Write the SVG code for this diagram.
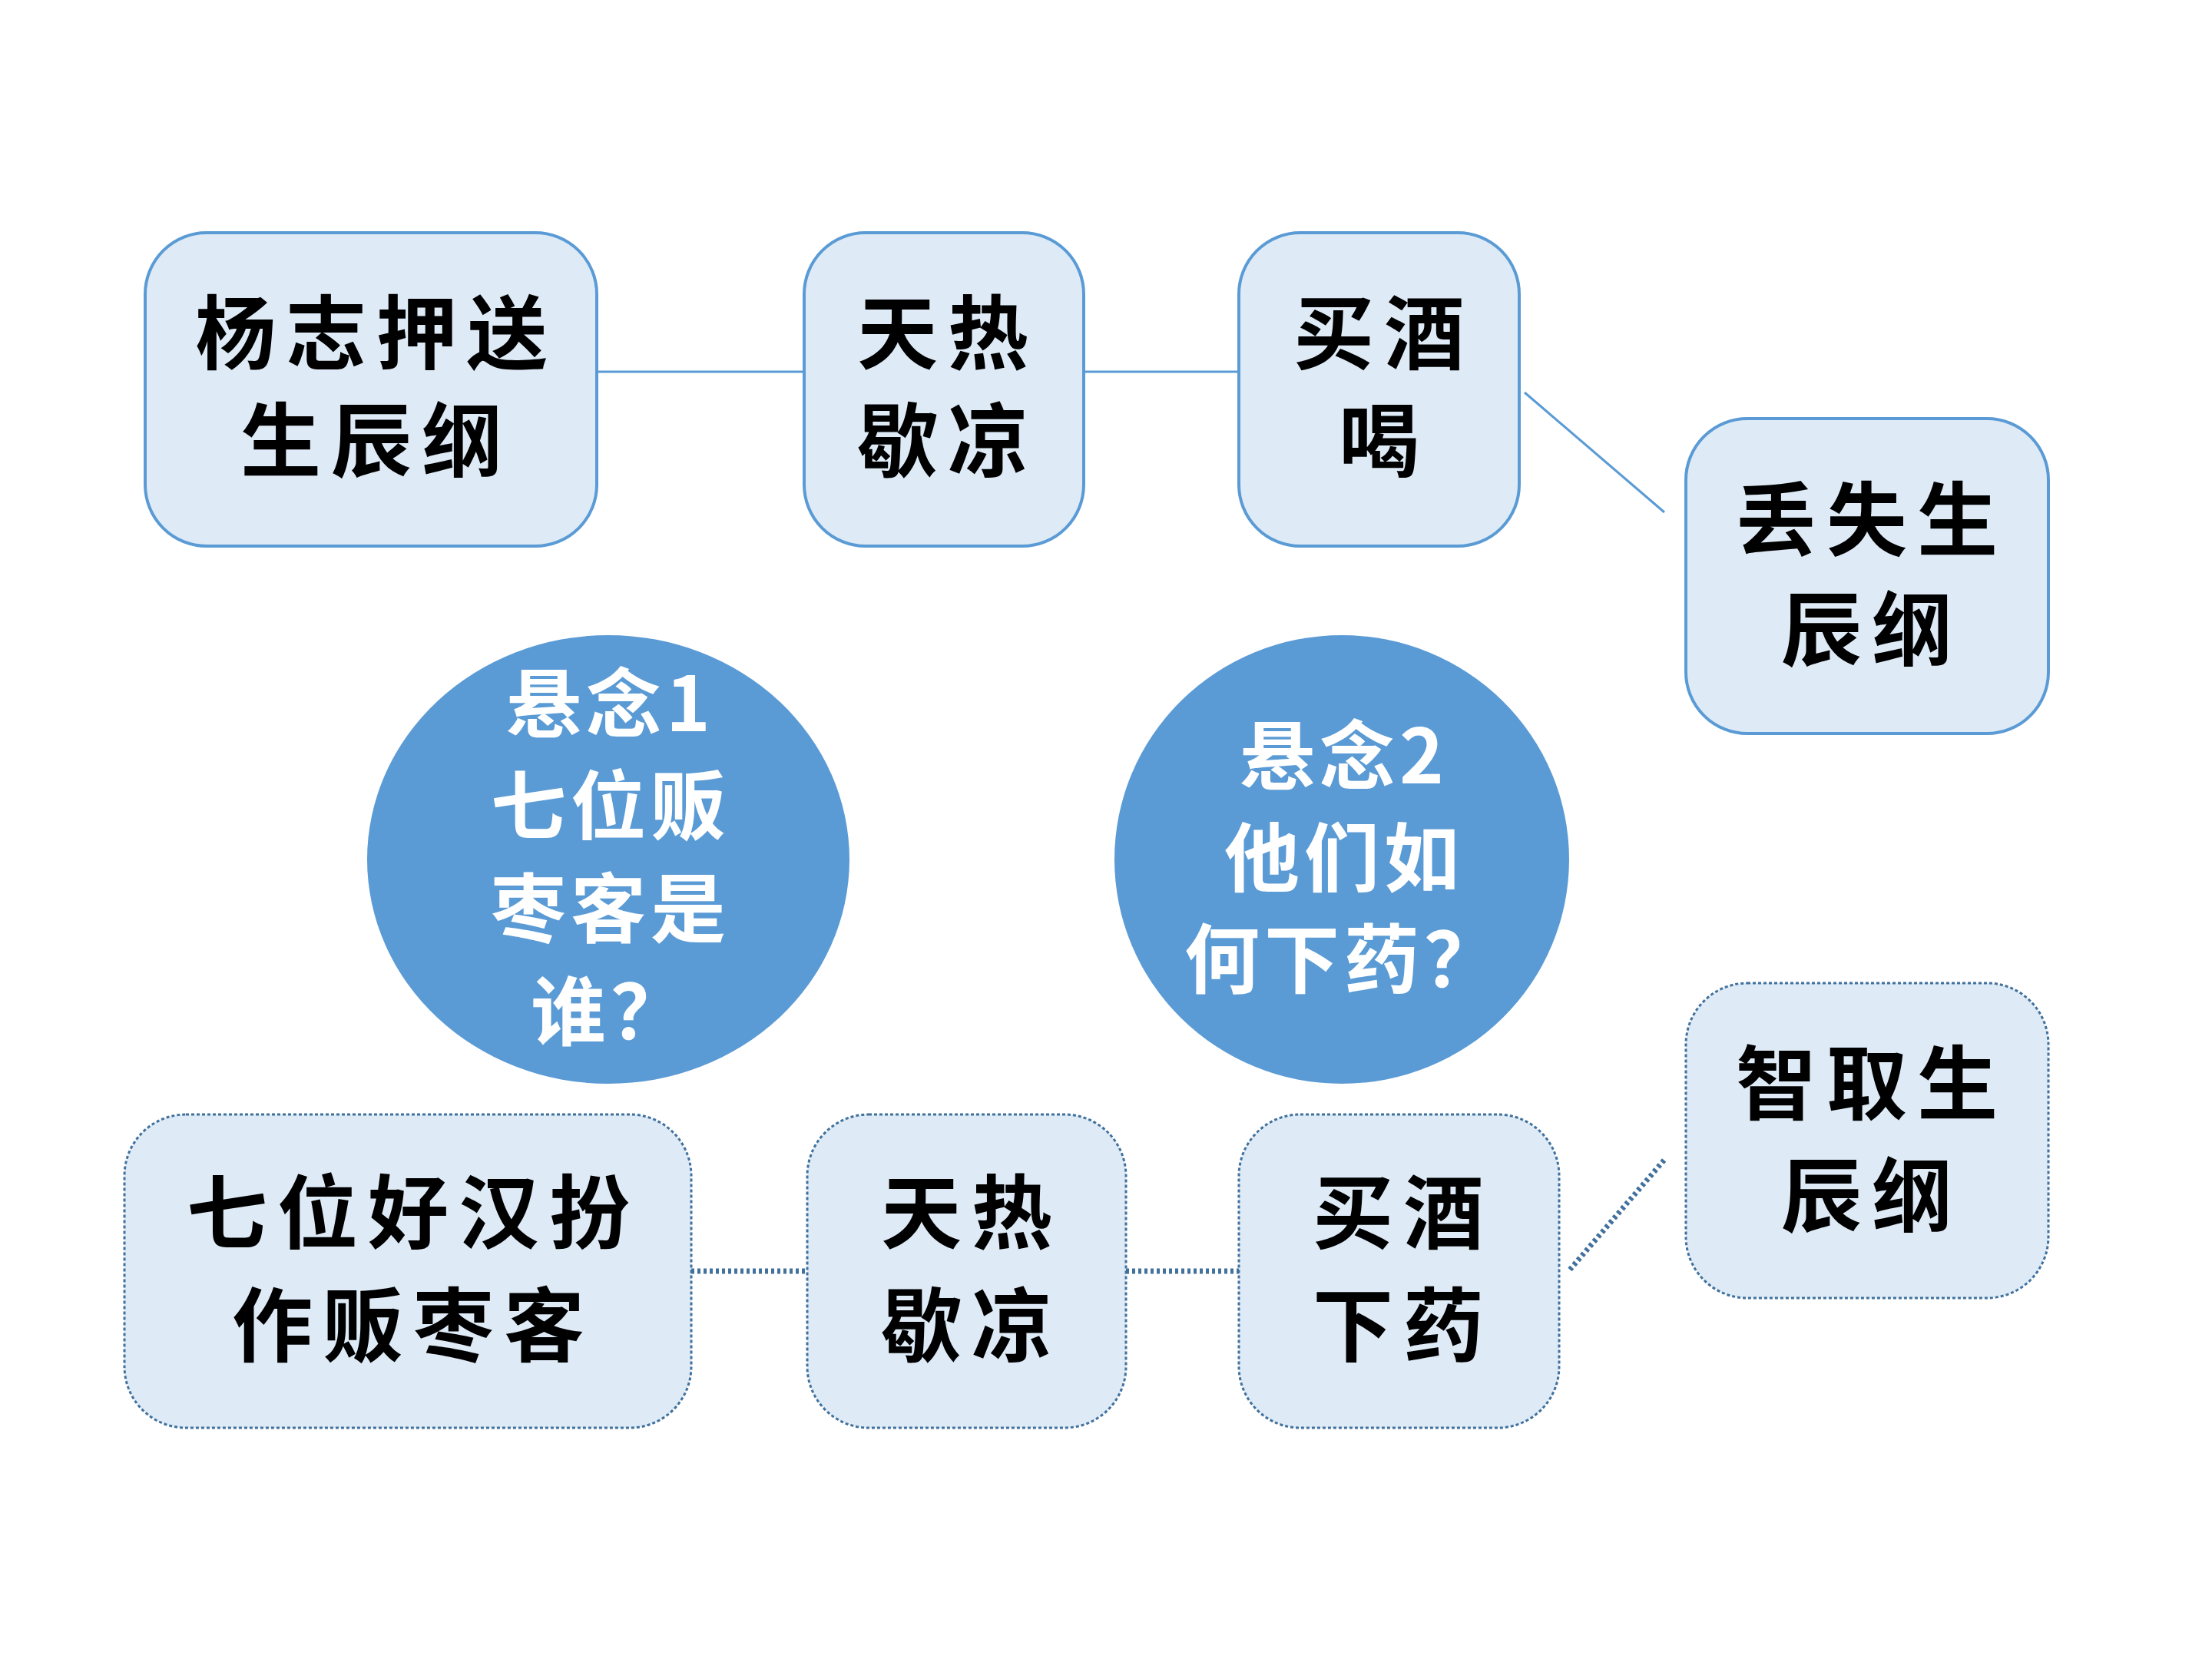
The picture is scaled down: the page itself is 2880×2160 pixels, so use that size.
<svg xmlns="http://www.w3.org/2000/svg" width="2880" height="2160" viewBox="0 0 2880 2160">
<style>
.box{fill:#DEEBF7;stroke:#5B9BD5;stroke-width:4}
.dbox{fill:#DEEBF7;stroke:#41719C;stroke-width:3;stroke-dasharray:4 3}
.circ{fill:#5B9BD5;stroke:none}
.t{font-family:"Noto Sans CJK SC","Noto Sans",sans-serif;font-size:105px;font-weight:700;fill:#000;text-anchor:middle;letter-spacing:13px}
.w{font-family:"Noto Sans CJK SC","Noto Sans",sans-serif;font-size:98px;font-weight:700;fill:#fff;text-anchor:middle;letter-spacing:6px}
.ln{stroke:#5B9BD5;stroke-width:3;fill:none}
.dl{stroke:#41719C;stroke-width:7;stroke-dasharray:4 4;fill:none}
</style>
<rect width="2880" height="2160" fill="#fff"/>
<g id="connectors">
<line class="ln" x1="777" y1="484" x2="1047" y2="484"/>
<line class="ln" x1="1411" y1="484" x2="1613" y2="484"/>
<line class="ln" x1="1985" y1="511" x2="2167" y2="667"/>
<line class="dl" x1="900" y1="1655" x2="1051" y2="1655"/>
<line class="dl" x1="1466" y1="1655" x2="1613" y2="1655"/>
<line class="dl" x1="2044" y1="1653" x2="2167" y2="1510"/>
</g>
<g id="n1"><rect class="box" x="189" y="303" width="588" height="408" rx="80"/>
<text class="t" x="490" y="472">杨志押送</text><text class="t" x="490" y="612">生辰纲</text></g>
<g id="n2"><rect class="box" x="1047" y="303" width="364" height="408" rx="80"/>
<text class="t" x="1234" y="472">天热</text><text class="t" x="1234" y="612">歇凉</text></g>
<g id="n3"><rect class="box" x="1613" y="303" width="365" height="408" rx="80"/>
<text class="t" x="1802" y="472">买酒</text><text class="t" x="1802" y="612">喝</text></g>
<g id="n4"><rect class="box" x="2195" y="545" width="472" height="410" rx="80"/>
<text class="t" x="2437" y="715">丢失生</text><text class="t" x="2437" y="858">辰纲</text></g>
<g id="c1"><ellipse class="circ" cx="792" cy="1119" rx="314" ry="292"/>
<text class="w" x="795" y="952">悬念1</text><text class="w" x="795" y="1085">七位贩</text><text class="w" x="795" y="1219">枣客是</text><text class="w" x="795" y="1353">谁？</text></g>
<g id="c2"><ellipse class="circ" cx="1747" cy="1119" rx="296" ry="292"/>
<text class="w" x="1750" y="1020">悬念2</text><text class="w" x="1750" y="1153">他们如</text><text class="w" x="1750" y="1285">何下药？</text></g>
<g id="b1"><rect class="dbox" x="162" y="1451" width="738" height="408" rx="80"/>
<text class="t" x="538" y="1617">七位好汉扮</text><text class="t" x="538" y="1764">作贩枣客</text></g>
<g id="b2"><rect class="dbox" x="1051" y="1451" width="415" height="408" rx="80"/>
<text class="t" x="1265" y="1617">天热</text><text class="t" x="1265" y="1764">歇凉</text></g>
<g id="b3"><rect class="dbox" x="1613" y="1451" width="417" height="408" rx="80"/>
<text class="t" x="1827" y="1617">买酒</text><text class="t" x="1827" y="1764">下药</text></g>
<g id="b4"><rect class="dbox" x="2195" y="1280" width="472" height="410" rx="80"/>
<text class="t" x="2437" y="1449">智取生</text><text class="t" x="2437" y="1595">辰纲</text></g>
</svg>
